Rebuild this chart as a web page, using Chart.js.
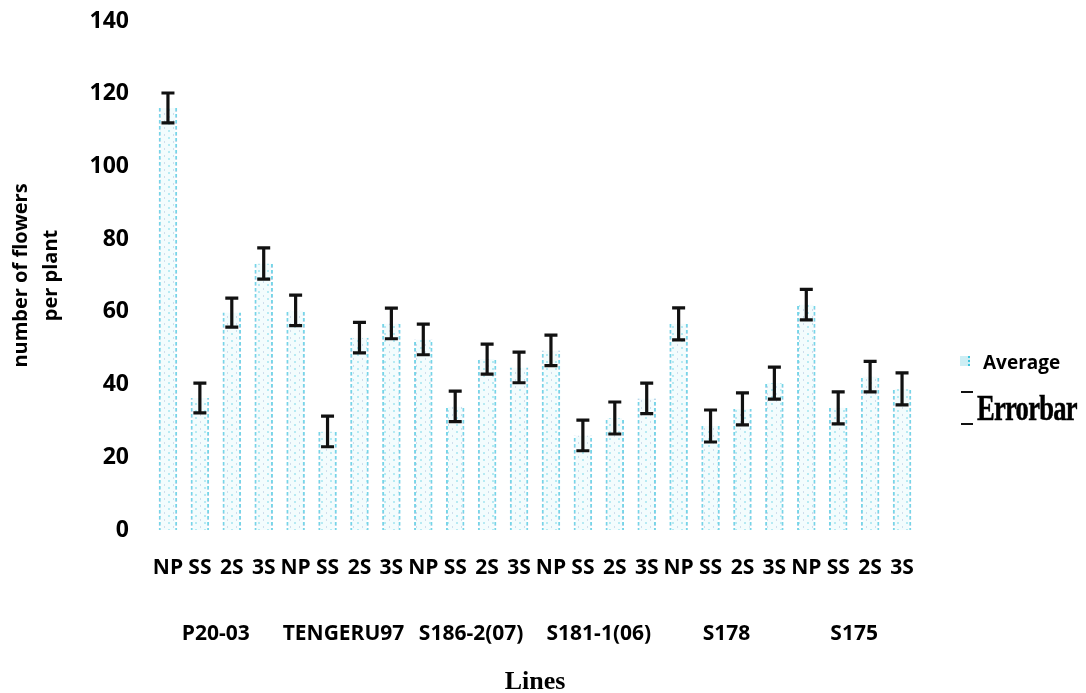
<!DOCTYPE html>
<html>
<head>
<meta charset="utf-8">
<title>Number of flowers per plant</title>
<script src="https://cdn.jsdelivr.net/npm/chart.js@4.4.0/dist/chart.umd.min.js"></script>
<style>
  body { margin: 0; background: #fff; }
  #wrap { position: relative; width: 1086px; height: 693px; }
  .lg { position: absolute; }
  .avg-icon { left: 960px; top: 356px; width: 8px; height: 10px; background: #cdeef4; border-right: 2px dotted #40c4dc; }
  .avg-text { left: 983px; top: 349px; font: bold 19px "Open Sans", sans-serif; color: #000; }
  .err-dash { left: 961px; width: 12px; height: 2px; background: #111; }
  .err-text { left: 977px; top: 389px; font: 900 35px "Liberation Serif", serif; color: #000;
              transform: scaleX(0.76); transform-origin: left center; letter-spacing: -1px;
              -webkit-text-stroke: 0.5px #000; }
</style>
</head>
<body>
<div id="wrap">
  <canvas id="flowerChart"></canvas>
  <div class="lg avg-icon"></div>
  <div class="lg avg-text">Average</div>
  <div class="lg err-dash" style="top:391px"></div>
  <div class="lg err-dash" style="top:423px"></div>
  <div class="lg err-text">Errorbar</div>
</div>
<script>
// lines and treatments
const lines = ["P20-03", "TENGERU97", "S186-2(07)", "S181-1(06)", "S178", "S175"];
const treatments = ["NP", "SS", "2S", "3S"];
const categories = lines.flatMap(() => treatments);

// average number of flowers per plant
const averages = [
  116.1, 36.3, 59.8, 73.3,
  60.4, 27.1, 52.9, 56.8,
  52.4, 34.0, 47.0, 44.7,
  49.4, 26.0, 30.8, 36.2,
  56.7, 28.6, 33.3, 40.4,
  62.0, 33.6, 42.2, 38.8
];
const errors = [
  4.1, 4.1, 4.0, 4.3,
  4.2, 4.2, 4.2, 4.2,
  4.2, 4.2, 4.1, 4.2,
  4.2, 4.2, 4.4, 4.2,
  4.4, 4.4, 4.4, 4.4,
  4.2, 4.4, 4.2, 4.4
];
const yMin = 0, yMax = 140, yStep = 20;

// dotted light-cyan look of the bars
function makePattern(w, h, draw) {
  const c = document.createElement("canvas");
  c.width = w; c.height = h;
  const g = c.getContext("2d");
  draw(g);
  return g.createPattern(c, "repeat");
}
const barFill = makePattern(9, 7, g => {
  g.fillStyle = "rgba(215,244,248,0.3)";
  g.fillRect(0, 0, 9, 7);
  g.fillStyle = "rgba(120,150,195,0.3)";
  g.fillRect(2, 1, 1, 2);
  g.fillStyle = "rgba(70,200,225,0.35)";
  g.fillRect(6, 4, 2, 2);
});
const barEdge = makePattern(2, 6, g => {
  g.fillStyle = "rgba(60,195,222,0.7)";
  g.fillRect(0, 0, 2, 3);
  g.fillStyle = "rgba(40,110,180,0.3)";
  g.fillRect(0, 3, 2, 1);
});

// error bars drawn on top of the bars
const errorBars = {
  id: "errorBars",
  afterDatasetsDraw(chart) {
    const ctx = chart.ctx;
    const y = chart.scales.y;
    const meta = chart.getDatasetMeta(0);
    ctx.save();
    ctx.strokeStyle = "#111";
    ctx.lineWidth = 3.2;
    meta.data.forEach((bar, i) => {
      const top = y.getPixelForValue(averages[i] + errors[i]);
      const bottom = y.getPixelForValue(averages[i] - errors[i]);
      ctx.beginPath();
      ctx.moveTo(bar.x, top); ctx.lineTo(bar.x, bottom);
      ctx.moveTo(bar.x - 6.5, top); ctx.lineTo(bar.x + 6.5, top);
      ctx.moveTo(bar.x - 6.5, bottom); ctx.lineTo(bar.x + 6.5, bottom);
      ctx.stroke();
    });
    ctx.restore();
  }
};

const sans = "'Open Sans', sans-serif";

new Chart(document.getElementById("flowerChart"), {
  type: "bar",
  data: {
    labels: categories,
    datasets: [{
      label: "Average",
      data: averages,
      backgroundColor: barFill,
      borderColor: barEdge,
      borderWidth: { left: 2, right: 2, top: 0, bottom: 0 },
      borderSkipped: false,
      categoryPercentage: 1,
      barPercentage: 0.58
    }]
  },
  options: {
    responsive: true,
    maintainAspectRatio: false,
    animation: false,
    layout: { padding: { top: 21, right: 168, bottom: 0, left: 0 } },
    plugins: { legend: { display: false }, tooltip: { enabled: false } },
    scales: {
      y: {
        min: yMin, max: yMax,
        // tick marks are hidden, their length only spaces the labels
        grid: { display: false, drawTicks: true, tickLength: 19 },
        border: { display: false },
        ticks: { stepSize: yStep, padding: 4, color: "#000", font: { family: sans, weight: "bold", size: 23 } },
        title: {
          display: true,
          text: ["number of flowers", "per plant"],
          color: "#000",
          font: { family: sans, weight: "bold", size: 20, lineHeight: 1.5 },
          padding: { top: 6, bottom: 0 }
        },
        afterFit(scale) { scale.width = 152; }
      },
      x: {
        offset: true,
        grid: { display: false, drawTicks: false },
        border: { display: false },
        ticks: { autoSkip: false, maxRotation: 0, padding: 25, color: "#000", font: { family: sans, weight: "bold", size: 21 } },
        afterFit(scale) { scale.height = 68; }
      },
      lines: {
        type: "category",
        position: "bottom",
        labels: lines,
        offset: true,
        grid: { display: false, drawTicks: false },
        border: { display: false },
        ticks: { autoSkip: false, maxRotation: 0, padding: 23, color: "#000", font: { family: sans, weight: "bold", size: 21 } },
        title: {
          display: true,
          text: "Lines",
          color: "#000",
          font: { family: "'Liberation Serif', serif", weight: "bold", size: 26, lineHeight: 0.85 },
          padding: { top: 0, bottom: 0 }
        },
        afterFit(scale) { scale.height = 95; }
      }
    }
  },
  plugins: [errorBars]
});
</script>
</body>
</html>
